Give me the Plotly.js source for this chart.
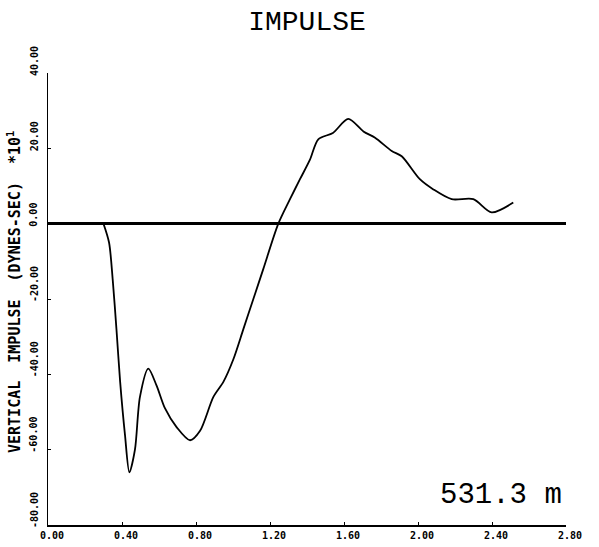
<!DOCTYPE html>
<html>
<head>
<meta charset="utf-8">
<script src="https://cdn.plot.ly/plotly-3.0.1.min.js"></script>
<style>html,body{margin:0;padding:0;background:#fff;}#chart{width:599px;height:547px;}</style>
</head>
<body>
<div id="chart"></div>
<script>
// Time (x) and vertical impulse (y, *10^1 dyne-sec)
var timeValues = [0.30, 0.33, 0.35, 0.37, 0.39, 0.416, 0.44, 0.47, 0.497, 0.542, 0.587, 0.632, 0.695, 0.768, 0.822, 0.894, 0.948, 1.002, 1.056, 1.11, 1.164, 1.245, 1.308, 1.362, 1.416, 1.461, 1.54, 1.623, 1.705, 1.768, 1.858, 1.912, 2.01, 2.083, 2.182, 2.299, 2.398, 2.515];
var impulseValues = [0, -5, -15, -28, -42, -56, -66, -60, -46, -38.5, -43, -49, -54, -57.5, -55, -46, -42, -36, -28, -20, -12, 0, 6.5, 11.8, 17, 22.4, 24.1, 27.8, 24.5, 22.8, 19.3, 17.9, 11.8, 9.1, 6.5, 6.5, 3.0, 5.6];

var xTickVals = [0, 0.4, 0.8, 1.2, 1.6, 2.0, 2.4, 2.8];
var xTickText = ["0.00", "0.40", "0.80", "1.20", "1.60", "2.00", "2.40", "2.80"];
var yTickVals = [40, 20, 0, -20, -40, -60, -80];
var yTickText = ["40.00", "20.00", "0.00", "-20.00", "-40.00", "-60.00", "-80.00"];

var chartTitle = "IMPULSE";
var yTitle = "VERTICAL  IMPULSE  (DYNES-SEC)  *10<sup>1</sup>";
var noteText = "531.3 m";

var tickFont = {family: "DejaVu Sans Mono", size: 10, color: "#000", weight: "bold"};

var trace = {
  x: timeValues,
  y: impulseValues,
  type: "scatter",
  mode: "lines",
  line: {color: "#000", width: 1.8, shape: "spline", smoothing: 0.8},
  hoverinfo: "skip",
  showlegend: false
};

// y tick labels drawn as rotated annotations placed on the y scale
var annotations = yTickVals.map(function (v, i) {
  return {
    text: yTickText[i],
    xref: "paper", yref: "y",
    x: (34 - 48) / 518, y: v,
    xanchor: "center", yanchor: "bottom",
    yshift: -5,
    textangle: -90,
    showarrow: false,
    font: tickFont
  };
});

annotations.push({
  text: yTitle,
  xref: "paper", yref: "paper",
  x: (14 - 48) / 518, y: (525 - 292) / 452,
  xanchor: "center", yanchor: "middle",
  textangle: -90,
  showarrow: false,
  font: {family: "DejaVu Sans Mono", size: 15, color: "#000", weight: "bold"}
});

annotations.push({
  text: noteText,
  xref: "paper", yref: "paper",
  x: (501 - 48) / 518, y: (525 - 495) / 452,
  xanchor: "center", yanchor: "middle",
  showarrow: false,
  font: {family: "Liberation Mono", size: 29, color: "#000"}
});

var layout = {
  width: 599,
  height: 547,
  paper_bgcolor: "#fff",
  plot_bgcolor: "#fff",
  margin: {l: 48, r: 33, t: 73, b: 22},
  title: {
    text: chartTitle,
    font: {family: "Liberation Mono", size: 28, color: "#000"},
    x: 0.5, xref: "paper", xanchor: "center",
    y: 1 - 20/547, yref: "container", yanchor: "middle"
  },
  xaxis: {
    range: [0, 2.8],
    tickvals: xTickVals,
    ticktext: xTickText,
    tickfont: tickFont,
    ticks: "inside",
    ticklen: 3,
    tickwidth: 1,
    tickcolor: "#000",
    ticklabelshift: 4,
    showgrid: false,
    zeroline: false,
    showline: true,
    linecolor: "#000",
    linewidth: 2,
    fixedrange: true
  },
  yaxis: {
    range: [-80, 40],
    tickvals: yTickVals,
    showticklabels: false,
    ticks: "inside",
    ticklen: 3,
    tickwidth: 1,
    tickcolor: "#000",
    showgrid: false,
    zeroline: true,
    zerolinecolor: "#000",
    zerolinewidth: 2.5,
    showline: true,
    linecolor: "#000",
    linewidth: 1,
    fixedrange: true
  },
  annotations: annotations
};

Plotly.newPlot("chart", [trace], layout, {displayModeBar: false, staticPlot: true});
</script>
</body>
</html>
